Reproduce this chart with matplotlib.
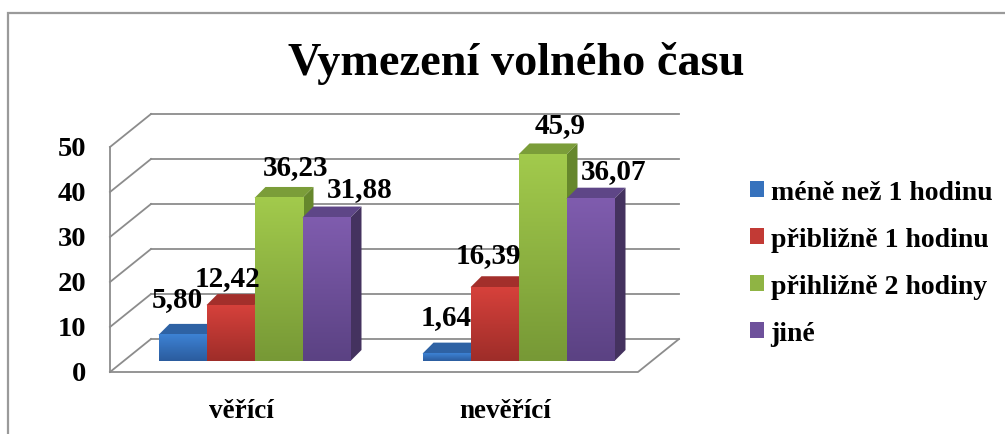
import numpy as np
import matplotlib
matplotlib.use('Agg')
import matplotlib.pyplot as plt
from matplotlib.patches import Polygon, Rectangle, Patch
from matplotlib.colors import LinearSegmentedColormap

# data
categories = ['věřící', 'nevěřící']
series_names = ['méně než 1 hodinu', 'přibližně 1 hodinu', 'přihližně 2 hodiny', 'jiné']
mene_1h = [5.80, 1.64]
pribl_1h = [12.42, 16.39]
pribl_2h = [36.23, 45.9]
jine = [31.88, 36.07]
value_labels = [['5,80', '1,64'], ['12,42', '16,39'], ['36,23', '45,9'], ['31,88', '36,07']]
y_ticks = [0, 10, 20, 30, 40, 50]

series_values = [mene_1h, pribl_1h, pribl_2h, jine]

# colours: (front top, front bottom, top face, side face)
colors = [
    ('#3d82d4', '#2b5c9e', '#2e62a4', '#26507f'),
    ('#d6413b', '#9e2d29', '#a32f2b', '#8a2825'),
    ('#a2ca4c', '#779936', '#7b9d39', '#66872c'),
    ('#7f5cae', '#5b4283', '#5e4687', '#44325f'),
]
legend_colors = ['#3672bd', '#c23a35', '#8fb444', '#6e519b']

# label offsets in pixels (dx, dy up) from the top-front centre of each bar
label_off = [[(-5, 36), (0, 37)],
             [(-3, 28), (-6, 33)],
             [(17, 31), (18, 30)],
             [(33, 29), (23, 28)]]

# geometry: pixels -> data units
W, H = 1005, 435
PX_X = 264.0   # px per category
PX_V = 4.5     # px per value unit
X0_PX, V0_PX = 241, 373


def dx(p):
    return p / PX_X


def dv(p):
    return p / PX_V


WALL_DX, WALL_DV = dx(41), dv(33)
BASE_DX, BASE_DV = dx(13.5), dv(11)
BAR_DX, BAR_DV = dx(11), dv(11)
BAR_W = dx(48)
X_LEFT, X_RIGHT = dx(110 - X0_PX), dx(638 - X0_PX)

FONT = 'Liberation Serif'

fig = plt.figure(figsize=(W / 100, H / 100), dpi=100)
ax = fig.add_axes([0, 0, 1, 1])
ax.axis('off')

# outer frame
fig.add_artist(Rectangle((8 / W, -0.1), 1.2, 1 - 14 / H + 0.1, transform=fig.transFigure,
                         fill=False, edgecolor='#9a9a9a', lw=1.6))

# walls / gridlines
gc = '#8c8c8c'
for t in y_ticks:
    ax.plot([X_LEFT + WALL_DX, X_RIGHT + WALL_DX], [t + WALL_DV, t + WALL_DV], color=gc, lw=1.3, zorder=1)
    ax.plot([X_LEFT, X_LEFT + WALL_DX], [t, t + WALL_DV], color=gc, lw=1.3, zorder=1)
ax.plot([X_LEFT, X_LEFT], [0, y_ticks[-1]], color=gc, lw=1.3, zorder=1)
ax.plot([X_LEFT, X_RIGHT, X_RIGHT + WALL_DX], [0, 0, WALL_DV], color=gc, lw=1.3, zorder=1)

# bars
cat_x = np.arange(len(categories))
grad = np.linspace(0, 1, 64).reshape(-1, 1)
for i, vals in enumerate(series_values):
    ftop, fbot, ctop, cside = colors[i]
    z = 3 + i * 0.1
    xs = cat_x + BASE_DX + (i - 2) * BAR_W
    bars = ax.bar(xs, vals, width=BAR_W, bottom=BASE_DV, align='edge', color=fbot, zorder=z + 0.05)
    cmap = LinearSegmentedColormap.from_list('g%d' % i, [ftop, fbot])
    for j, b in enumerate(bars):
        x0, y0 = b.get_x(), b.get_y()
        x1, y1 = x0 + b.get_width(), y0 + b.get_height()
        ax.imshow(grad, extent=(x0, x1, y0, y1), cmap=cmap, aspect='auto', zorder=z + 0.06,
                  interpolation='bilinear')
        ax.add_patch(Polygon([(x0, y1), (x0 + BAR_DX, y1 + BAR_DV), (x1 + BAR_DX, y1 + BAR_DV), (x1, y1)],
                             closed=True, facecolor=ctop, edgecolor='none', zorder=z))
        ax.add_patch(Polygon([(x1, y0), (x1 + BAR_DX, y0 + BAR_DV), (x1 + BAR_DX, y1 + BAR_DV), (x1, y1)],
                             closed=True, facecolor=cside, edgecolor='none', zorder=z))
        ox, oy = label_off[i][j]
        ax.text((x0 + x1) / 2 + dx(ox), y1 + dv(oy), value_labels[i][j], ha='center', va='center',
                fontsize=21, fontweight='bold', family=FONT, zorder=10)

# y tick labels
for t in y_ticks:
    ax.text(dx(86 - X0_PX), t - dv(2), str(t), ha='right', va='center', fontsize=20.5,
            fontweight='bold', family=FONT)

# category labels
for c, name in zip(cat_x, categories):
    ax.text(c, dv(V0_PX - 418), name, ha='center', va='baseline', fontsize=19.5,
            fontweight='bold', family=FONT)

# title
fig.text(516 / W, 1 - 75 / H, 'Vymezení volného času', ha='center', va='baseline',
         fontsize=33.3, fontweight='bold', family=FONT)

# legend
handles = [Patch(facecolor=c, edgecolor='none') for c in legend_colors]
ax.legend(handles, series_names, loc='center left', bbox_to_anchor=(750 / W, 1 - 264 / H),
          bbox_transform=fig.transFigure, frameon=False, handlelength=0.52, handleheight=0.52,
          handletextpad=0.22, labelspacing=0.79, borderaxespad=0, borderpad=0,
          prop={'family': FONT, 'weight': 'bold', 'size': 20})

ax.set_xlim(dx(0 - X0_PX), dx(W - X0_PX))
ax.set_ylim(dv(V0_PX - H), dv(V0_PX))

fig.savefig('out.png', dpi=100)
